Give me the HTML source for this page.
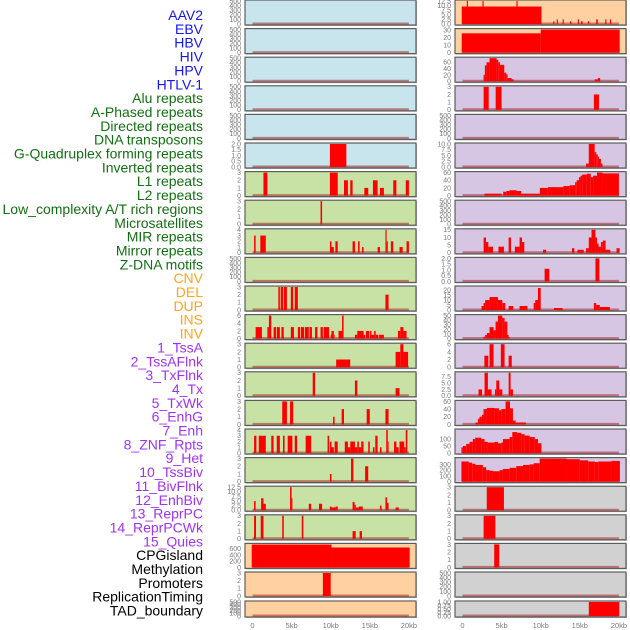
<!DOCTYPE html>
<html><head><meta charset="utf-8">
<style>
html,body{margin:0;padding:0;background:#fff;}
svg{display:block;font-family:"Liberation Sans",sans-serif;}
</style></head>
<body>
<svg id="chart" width="630" height="630" viewBox="0 0 630 630"></svg>
<script>
const labelNames = ["AAV2","EBV","HBV","HIV","HPV","HTLV-1","Alu repeats","A-Phased repeats","Directed repeats","DNA transposons","G-Quadruplex forming repeats","Inverted repeats","L1 repeats","L2 repeats","Low_complexity A/T rich regions","Microsatellites","MIR repeats","Mirror repeats","Z-DNA motifs","CNV","DEL","DUP","INS","INV","1_TssA","2_TssAFlnk","3_TxFlnk","4_Tx","5_TxWk","6_EnhG","7_Enh","8_ZNF_Rpts","9_Het","10_TssBiv","11_BivFlnk","12_EnhBiv","13_ReprPC","14_ReprPCWk","15_Quies","CPGisland","Methylation","Promoters","ReplicationTiming","TAD_boundary"];
const labelGroup = ["v","v","v","v","v","v","r","r","r","r","r","r","r","r","r","r","r","r","r","s","s","s","s","s","c","c","c","c","c","c","c","c","c","c","c","c","c","c","c","o","o","o","o","o"];
const xTickValues = [0,5,10,15,20];
const xTickLabels = ["0","5kb","10kb","15kb","20kb"];
const panelYMax = [500,500,500,500,500,2, 3,3,4,500,3,6,3,3,3,4,3,12.5,3,740,3,500,
  12.5,31,73,3,500,10,60,500,15,2,23,50,6,9,60,165,400,3,3,3,500,1];
const panelTicks = [
 [0,100,200,300,400,500],[0,100,200,300,400,500],[0,100,200,300,400,500],[0,100,200,300,400,500],[0,100,200,300,400,500],[0,0.5,1,1.5,2],
 [0,1,2,3],[0,1,2,3],[0,1,2,3,4],[0,100,200,300,400,500],[0,1,2,3],[0,2,4,6],[0,1,2,3],[0,1,2,3],[0,1,2,3],[0,1,2,3,4],[0,1,2,3],[0,2.5,5,7.5,10,12.5],[0,1,2,3],[0,200,400,600],[0,1,2,3],[0,100,200,300,400,500],
 [0,2.5,5,7.5,10,12.5],[0,10,20,30],[0,20,40,60],[0,1,2,3],[0,100,200,300,400,500],[0,2.5,5,7.5,10],[0,20,40,60],[0,100,200,300,400,500],[0,5,10,15],[0,0.5,1,1.5,2],[0,5,10,15,20],[0,10,20,30,40,50],[0,2,4,6],[0,2.5,5,7.5],[0,20,40,60],[0,50,100],[0,100,200,300],[0,1,2,3],[0,1,2,3],[0,1,2,3],[0,100,200,300,400,500],[0,0.25,0.5,0.75,1]];
const tickDecimals = [0,0,0,0,0,1, 0,0,0,0,0,0,0,0,0,0,0,1,0,0,0,0, 1,0,0,0,0,1,0,0,0,1,0,0,0,1,0,0,0,0,0,0,0,2];
// segments: [startKb, endKb, value]
const panelSegments = [
 [],[],[],[],[],[[9.9,12,2]],
 [[1.4,1.9,3],[9.9,10.9,3],[11.7,12.2,2],[12.5,12.8,2],[14.3,14.8,1],[15.4,16,2],[16.3,16.8,1],[18,18.4,2],[19.6,20,2]],
 [[8.7,8.9,3]],
 [[0.2,0.4,3],[1,1.7,3],[9.9,10.1,2],[10.1,10.4,1],[10.6,10.9,2],[12.8,13.1,2],[13.5,13.7,2],[14,14.2,1],[16,16.3,1],[17,17.15,4],[17.15,17.3,2],[17.7,18,2],[18.8,19.2,1],[19.7,20,2]],
 [],
 [[3.3,3.5,3],[3.6,3.9,3],[4,4.4,3],[4.9,5.2,3],[5.4,5.8,3],[17,17.4,2]],
 [[0.4,1.2,3],[1.9,2.1,3],[2.1,2.4,6],[2.7,3,3],[3.1,3.5,3],[3.7,4,3],[4.9,5.3,3],[5.8,6.1,3],[6.2,6.6,3],[6.7,7.2,3],[7.3,7.6,3],[8,8.3,3],[8.7,9,3],[9.1,9.8,3],[10,10.1,1],[10.1,10.4,2],[10.4,10.5,1],[11,11.45,2],[11.45,11.65,6],[13.1,13.4,1],[13.4,14.2,2],[14.2,14.4,1],[14.5,14.9,2],[15,15.2,2],[15.2,15.55,1],[15.55,15.75,2],[15.75,16.1,1],[16.2,16.8,1],[18.6,18.9,2],[18.9,19.3,3],[19.3,19.7,2]],
 [[10.7,12.5,1],[18.3,18.9,2],[18.9,19.3,3],[19.3,19.9,2]],
 [[7.7,8,3],[13.1,13.4,2],[18.3,18.8,1]],
 [[3.8,4.4,3],[4.8,5.2,3],[10.3,10.5,1],[11.4,11.7,2],[14.6,15,2],[17,17.4,2]],
 [[0.2,0.5,3],[0.8,1.7,3],[2.4,2.7,3],[3.1,3.5,3],[3.9,4.1,3],[4.5,5.1,3],[5.4,5.7,3],[6.8,7.5,3],[9.6,9.8,3],[9.9,10.1,2],[10.1,10.4,1],[10.5,10.9,2],[11.8,12.2,2],[12.2,12.5,1],[12.5,13.1,2],[13.1,13.4,1],[13.4,13.6,2],[13.6,13.9,1],[13.9,14.2,2],[14.8,15,2],[15.4,15.6,1],[15.7,16,3],[16.3,16.5,1],[17.1,17.3,4],[17.3,17.4,2],[18.1,18.4,2],[18.4,18.7,1],[18.8,19.4,2],[19.4,19.6,1],[19.6,19.8,4]],
 [[9.9,10.1,1],[12.6,12.9,3],[14.4,14.8,2]],
 [[0.2,0.4,5],[1.1,1.4,6.5],[1.4,1.7,3.5],[4.8,5,12.5],[5,5.1,6.5],[7.2,7.5,3.5],[8.5,8.9,3.5],[9.9,10.1,2],[10.1,10.6,1.5],[10.6,10.9,2],[12.8,13.05,4.5],[13.05,13.2,3],[13.2,13.6,1.5],[13.6,14.1,2],[16.3,16.5,2.5],[17,17.2,7],[17.2,17.4,4],[18.3,18.7,1.5]],
 [[0.2,0.45,3],[1.05,1.4,3],[3.8,4,3],[6.3,6.5,3],[12.8,13.2,1],[13.7,14,1]],
 [[-0.1,10.1,735],[10.1,20.1,640]],
 [[9,10,3]],
 [],
 [[-0.1,10.1,9.5],[0.55,0.7,12.5],[2.55,2.7,12.5],[6.9,7.05,12.5],[11.6,11.75,1.5],[12.05,12.2,2.5],[12.8,12.95,2.5],[13.75,13.9,1.5],[14.75,14.9,2.5],[15.15,15.35,1.5],[16.05,16.2,1.5],[17.1,17.3,2.5],[18.25,18.4,2.5],[18.85,19,2.5]],
 [[-0.1,10,26],[10,20.1,31]],
 [[2.69,2.86,20],[2.86,3.08,50],[3.08,3.46,60],[3.46,4.36,73],[4.36,4.57,68],[4.57,4.79,60],[4.79,5.34,52],[5.34,5.6,27],[5.6,5.77,22],[5.77,6.28,10],[6.28,6.54,6],[16.9,17.3,6],[17.3,17.6,10]],
 [[2.7,3.35,3],[4.24,5,3],[16.8,17.45,2]],
 [],
 [[15.8,16.15,1.5],[16.15,16.9,10],[16.9,17.1,6.5],[17.1,17.3,5.5],[17.3,17.45,4.5],[17.45,17.7,3.5],[17.7,17.9,1.5]],
 [[2.8,5,5],[5.2,5.6,10],[5.6,6,12],[6,6.9,14],[6.9,7.5,12],[7.5,9.9,5],[9.9,10.9,20],[10.9,12.9,22],[12.9,13.7,25],[13.7,14.4,27],[14.4,14.6,35],[14.6,14.9,40],[14.9,15.1,48],[15.1,15.3,52],[15.3,15.9,55],[15.9,16.4,57],[16.4,16.7,48],[16.7,17.2,52],[17.2,17.9,60],[17.9,20,58]],
 [],
 [[2.7,3,10],[3,3.3,7],[3.3,3.9,4],[4.6,5.3,4],[5.9,6.2,10],[6.7,7.3,4],[7.3,7.6,10],[7.6,7.9,7],[10.3,10.7,2],[14,14.3,3],[14.7,15.5,2],[15.8,16.15,3],[16.15,16.5,10],[16.5,17,15],[17,17.2,10],[17.2,17.4,6],[17.4,17.7,4],[17.7,17.95,7],[17.95,18.3,8],[18.3,18.9,2],[19.7,20.1,3]],
 [[10.5,11.1,1.1],[17,17.5,2]],
 [[2.44,2.69,4],[2.69,2.9,7],[2.9,3.46,10],[3.46,4.53,13],[4.53,5.09,10],[5.09,5.47,7],[5.9,6.5,4],[7.3,8.3,4],[9.1,9.3,7],[9.3,9.65,10],[9.65,10,22],[11.7,12.8,2],[16.8,17.1,7],[17.1,17.56,5],[17.56,18.85,3]],
 [[2.69,2.9,4],[2.9,3.12,8],[3.12,3.46,12],[3.46,3.97,25],[3.97,4.23,18],[4.23,4.53,37],[4.53,5.09,50],[5.09,5.38,45],[5.38,5.73,37],[5.73,5.9,8],[5.9,6.07,3]],
 [[2.8,3.3,3],[3.46,3.97,6],[4.9,5.38,6],[5.9,6.3,3]],
 [[2.05,2.5,2.5],[2.82,3.25,9],[3.25,3.72,2.5],[4.15,4.32,2.5],[4.32,4.7,6],[4.7,5.09,2.5],[5.9,6.15,9],[6.15,6.45,2.5]],
 [[1.67,1.97,5],[1.97,2.18,15],[2.18,2.48,20],[2.48,2.69,25],[2.69,3.12,40],[3.12,4.1,43],[4.1,4.66,42],[4.66,4.96,37],[4.96,5.51,40],[5.51,6.07,60],[6.07,6.45,42],[6.45,6.8,10],[6.8,8.1,5]],
 [[-0.14,0.04,40],[0.04,0.47,50],[0.47,0.9,65],[0.9,1.32,80],[1.32,1.62,100],[1.62,2.39,110],[2.39,2.82,100],[2.82,3.25,80],[3.25,4.1,75],[4.1,4.53,80],[4.53,4.96,70],[4.96,5.17,75],[5.17,6.03,100],[6.03,6.37,115],[6.37,6.97,150],[6.97,7.52,145],[7.52,7.95,135],[7.95,8.6,125],[8.6,9.23,115],[9.23,9.66,100],[9.66,10.09,70]],
 [[-0.14,0.81,350],[0.81,1.24,330],[1.24,1.67,310],[1.67,2.6,290],[2.6,3.03,250],[3.03,3.46,200],[3.46,3.89,190],[3.89,4.74,180],[4.74,5.17,200],[5.17,6.03,220],[6.03,6.88,240],[6.88,7.74,270],[7.74,8.6,290],[8.6,9.1,300],[9.1,9.87,320],[9.87,13.3,400],[13.3,15,390],[15,16.07,370],[16.07,16.92,350],[16.92,17.35,340],[17.35,19.06,350],[19.06,20.13,360]],
 [[3.1,5.3,3]],
 [[2.7,4.2,3]],
 [[4.05,4.7,3]],
 [],
 [[16.15,20.05,1]]
];
const bgColors = {v:"#c8e4ec", r:"#c8e1a5", s:"#ffd1a0", c:"#d6c6e3", o:"#d1d1d1"};
const textColors = {v:"#1515f5", r:"#136f13", s:"#ffa51a", c:"#a033f0", o:"#000000"};

const NS = "http://www.w3.org/2000/svg";
const svg = document.getElementById("chart");
function mk(tag, attrs, parent){const e=document.createElementNS(NS,tag);for(const k in attrs)e.setAttribute(k,attrs[k]);(parent||svg).appendChild(e);return e;}

// left labels
const lab = mk("g",{});


labelNames.forEach((n,i)=>{
  const t = mk("text",{x:203,y:(15+i*13.85+5).toFixed(1),"text-anchor":"end","font-size":"14",fill:textColors[labelGroup[i]]},lab);
  t.textContent = n;
  
  
});

const colX = [245, 455];
const panelW = 171;
function xScale(col, kb){ return colX[col] + 7.5 + kb*7.82; }

for(let p=0;p<44;p++){
  const col = p<22?0:1;
  const row = p%22;
  const top = row<21 ? row*28.6 : 601;
  const h = row<21 ? 25 : 16;
  const g = mk("g",{});
  
  
  const x0 = colX[col];
  mk("rect",{x:x0+1,y:top+1,width:panelW,height:h,fill:"#b8b8b8"},g);
  const bg = mk("rect",{x:x0,y:top,width:panelW,height:h,fill:bgColors[labelGroup[p]],stroke:"#5d5d5d","stroke-width":1.2},g);
  
  
  const yb = top + h - 1, yt = top + 1;
  const ymax = panelYMax[p];
  const yScale = v => yb - (v/ymax)*(yb-yt);
  // ticks
  panelTicks[p].forEach(tv=>{
    const t = mk("text",{x:x0-4,y:(yScale(tv)+2.4).toFixed(1),"text-anchor":"end","font-size":"7",fill:"#7a7a7a"},g);
    t.textContent = tv.toFixed(tickDecimals[p]);
    
    
  });
  // baseline
  const bl = mk("line",{x1:xScale(col,0),x2:xScale(col,20),y1:yb-0.5,y2:yb-0.5,stroke:"rgba(150,0,0,0.45)","stroke-width":2},g);
  
  
  panelSegments[p].forEach(s=>{
    const xa = xScale(col,s[0]), xb = xScale(col,s[1]);
    const yv = Math.max(yt, yScale(s[2]));
    const r = mk("rect",{x:xa.toFixed(2),y:yv.toFixed(2),width:Math.max(0.8,xb-xa).toFixed(2),height:(yb-yv).toFixed(2),fill:"#ff0000"},g);
    
    
  });
}
// x axes
[0,1].forEach(col=>{
  xTickValues.forEach((v,i)=>{
    const t = mk("text",{x:xScale(col,v).toFixed(1),y:628,"text-anchor":"middle","font-size":"7.5",fill:"#7a7a7a"});
    t.textContent = xTickLabels[i];
    
    
  });
});
</script>
</body></html>
